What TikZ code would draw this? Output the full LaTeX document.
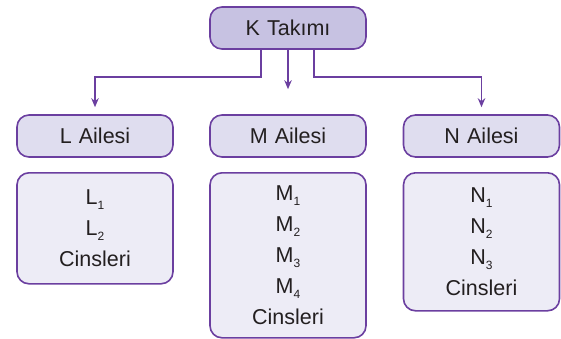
\documentclass[tikz,border=0pt]{standalone}
\usepackage{fontspec}
\setmainfont{Liberation Sans}
\usetikzlibrary{arrows.meta}
\definecolor{mor}{HTML}{6B3FA0}
\definecolor{krenk}{HTML}{C7C2E2}
\definecolor{basrenk}{HTML}{DFDDEF}
\definecolor{listrenk}{HTML}{EDECF6}
\definecolor{yazi}{HTML}{231F20}
\newcommand{\sbs}[1]{\raisebox{-0.4ex}{\fontsize{12}{12}\selectfont #1}}

\begin{document}
\begin{tikzpicture}[x=1pt,y=-1pt,
  kutu/.style={draw=mor, line width=1.6pt, rounded corners=12pt, minimum width=156pt,
    text width=145pt, align=center, text=yazi, font=\fontsize{21.5}{31}\selectfont},
  baslik/.style={kutu, fill=basrenk, minimum height=42pt},
  liste/.style={kutu, fill=listrenk, anchor=north},
  ok/.style={mor, line width=1.6pt, -{Stealth[length=9pt,width=7.5pt]}}]
\useasboundingbox (0,0) rectangle (561,338);
% ust kutu
\node[baslik, fill=krenk] (k) at (288,28) {K Takımı};
% aileler
\node[baslik] (l) at (95,136) {L Ailesi};
\node[baslik] (m) at (288,136) {M Ailesi};
\node[baslik] (n) at (481.5,136) {N Ailesi};
% cinsler
\node[liste, minimum height=111pt] (lc) at (95,172) {L\sbs{1}\\L\sbs{2}\\Cinsleri};
\node[liste, minimum height=165pt] (mc) at (288,172) {M\sbs{1}\\M\sbs{2}\\M\sbs{3}\\M\sbs{4}\\Cinsleri};
\node[liste, minimum height=138pt] (nc) at (481.5,172) {N\sbs{1}\\N\sbs{2}\\N\sbs{3}\\Cinsleri};
% oklar
\draw[ok] ([xshift=-27pt]k.south) -- ++(0,27) -| ([yshift=7pt]l.north);
\draw[ok] (k.south) -- ([yshift=25pt]m.north);
\draw[ok] ([xshift=26pt]k.south) -- ++(0,27) -| ([yshift=7pt]n.north);
\end{tikzpicture}
\end{document}
